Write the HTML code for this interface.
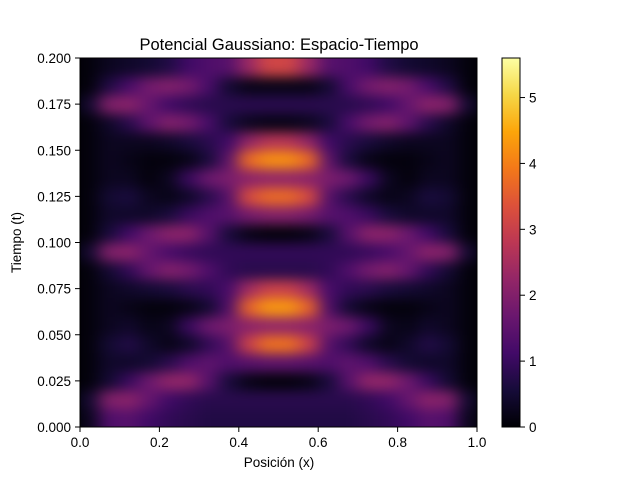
<!DOCTYPE html>
<html><head><meta charset="utf-8"><style>
html,body{margin:0;padding:0;background:#fff}
svg{display:block;font-family:"Liberation Sans","DejaVu Sans",sans-serif}
</style></head><body>
<svg id="chart" width="640" height="480" viewBox="0 0 640 480">
<defs>
<clipPath id="plotclip"><rect x="80" y="58" width="397" height="369"/></clipPath>
<filter id="blur" x="-0.1" y="-0.1" width="1.2" height="1.2" color-interpolation-filters="sRGB"><feGaussianBlur stdDeviation="8 6"/></filter>
<linearGradient id="cbgrad" x1="0" y1="1" x2="0" y2="0">
<stop offset="0" stop-color="#000004"/><stop offset="0.1" stop-color="#160b39"/><stop offset="0.2" stop-color="#420a68"/><stop offset="0.3" stop-color="#6a176e"/><stop offset="0.4" stop-color="#932667"/><stop offset="0.5" stop-color="#bc3754"/><stop offset="0.6" stop-color="#dd513a"/><stop offset="0.7" stop-color="#f37819"/><stop offset="0.8" stop-color="#fca50a"/><stop offset="0.9" stop-color="#f6d746"/><stop offset="1" stop-color="#fcffa4"/>
</linearGradient>
</defs>
<text x="279" y="50" text-anchor="middle" font-size="16.5">Potencial Gaussiano: Espacio-Tiempo</text>
<g clip-path="url(#plotclip)">
<rect x="80" y="58" width="397" height="369" fill="#000004"/>
<g id="cells" filter="url(#blur)"></g>
</g>
<rect x="80" y="58" width="397" height="369" fill="none" stroke="#000" stroke-width="1"/>
<g id="axes"></g>
<text x="279" y="467" text-anchor="middle" font-size="13.5">Posición (x)</text>
<text transform="translate(21,242.5) rotate(-90)" text-anchor="middle" font-size="13.5">Tiempo (t)</text>
<rect x="502" y="58" width="18" height="369" fill="url(#cbgrad)" stroke="#000" stroke-width="1"/>
<g id="cbaxis"></g>
</svg>
<script>
const xCenters = [0.025,0.075,0.125,0.175,0.225,0.275,0.325,0.375,0.425,0.475];
const tCenters = [0.005,0.015,0.025,0.035,0.045,0.055,0.065,0.075,0.085,0.095,0.105,0.115,0.125,0.135,0.145,0.155,0.165,0.175,0.185,0.195];
const rowValues = [
[0.3,1.3,1.4,1.1,0.9,0.8,0.7,0.7,0.7,0.7],
[0.5,2.0,2.1,1.6,1.1,0.9,0.8,0.8,0.8,0.8],
[0.1,0.5,1.0,1.7,2.2,2.2,1.4,0.6,0.2,0.1],
[0.1,0.4,0.4,0.5,0.8,1.3,1.5,1.3,1.4,1.5],
[0.1,0.5,0.7,0.4,0.2,0.4,0.9,1.4,3.0,3.8],
[0.1,0.3,0.4,0.2,0.3,1.0,1.7,1.9,2.1,2.2],
[0.1,0.3,0.2,0.1,0.1,0.2,0.5,1.3,3.6,4.3],
[0.1,0.3,0.4,0.5,0.6,0.8,0.9,1.2,2.4,3.0],
[0.1,0.5,0.9,1.6,2.0,1.8,1.3,0.9,0.8,0.8],
[0.5,2.0,2.1,1.6,1.2,1.0,0.9,0.9,0.9,0.9],
[0.1,0.6,1.1,1.7,2.1,2.1,1.4,0.6,0.2,0.1],
[0.1,0.4,0.4,0.4,0.6,1.0,1.3,1.4,1.8,2.0],
[0.1,0.5,0.6,0.3,0.2,0.4,0.8,1.4,3.2,3.7],
[0.1,0.3,0.3,0.1,0.3,1.0,1.7,1.9,2.1,2.2],
[0.1,0.3,0.2,0.1,0.1,0.2,0.6,1.5,3.7,4.2],
[0.1,0.3,0.3,0.3,0.4,0.6,0.8,1.1,2.2,2.7],
[0.1,0.4,0.8,1.5,2.0,1.8,1.2,0.6,0.3,0.2],
[0.5,2.0,2.1,1.6,1.1,0.9,0.8,0.8,0.8,0.8],
[0.1,0.7,1.2,1.8,2.0,1.8,1.2,0.5,0.2,0.2],
[0.1,0.3,0.4,0.5,0.7,1.1,1.3,1.4,2.3,3.1]
];
const xTicks = [0,0.2,0.4,0.6,0.8,1.0];
const xTickLabels = ["0.0","0.2","0.4","0.6","0.8","1.0"];
const yTicks = [0,0.025,0.05,0.075,0.1,0.125,0.15,0.175,0.2];
const yTickLabels = ["0.000","0.025","0.050","0.075","0.100","0.125","0.150","0.175","0.200"];
const cbTicks = [0,1,2,3,4,5];
const vmax = 5.6;

const NS = "http://www.w3.org/2000/svg";
const X0=80,X1=477,Y0=427,Y1=58;
const sx = x => X0 + x*(X1-X0);
const sy = t => Y0 - t/0.2*(Y0-Y1);
const cy = v => 427 - v/vmax*369;
const stops = [[0,0,0,4],[0.1,22,11,57],[0.2,66,10,104],[0.3,106,23,110],[0.4,147,38,103],[0.5,188,55,84],[0.6,221,81,58],[0.7,243,120,25],[0.8,252,165,10],[0.9,246,215,70],[1,252,255,164]];
function cmap(v){
  let f=Math.max(0,Math.min(1,v/vmax));
  for(let i=1;i<stops.length;i++){
    if(f<=stops[i][0]){
      const a=stops[i-1],b=stops[i],k=(f-a[0])/(b[0]-a[0]);
      return `rgb(${Math.round(a[1]+k*(b[1]-a[1]))},${Math.round(a[2]+k*(b[2]-a[2]))},${Math.round(a[3]+k*(b[3]-a[3]))})`;
    }
  }
  return "rgb(252,255,164)";
}
const cells=document.getElementById("cells");
const dx=0.05, dt=0.01;
rowValues.forEach((row,ri)=>{
  const t=tCenters[ri];
  let tA=t-dt/2, tB=t+dt/2;
  if(ri===0) tA-=0.02;
  if(ri===rowValues.length-1) tB+=0.02;
  row.forEach((v,ci)=>{
    [xCenters[ci], 1-xCenters[ci]].forEach(xc=>{
      const r=document.createElementNS(NS,"rect");
      r.setAttribute("x",sx(xc-dx/2)-0.5);
      r.setAttribute("y",sy(tB)-0.5);
      r.setAttribute("width",sx(xc+dx/2)-sx(xc-dx/2)+1);
      r.setAttribute("height",sy(tA)-sy(tB)+1);
      r.setAttribute("fill",cmap(v));
      
      
      cells.appendChild(r);
    });
  });
});
const axes=document.getElementById("axes");
function line(x1,y1,x2,y2,name){
  const l=document.createElementNS(NS,"line");
  l.setAttribute("x1",x1);l.setAttribute("y1",y1);l.setAttribute("x2",x2);l.setAttribute("y2",y2);
  l.setAttribute("stroke","#000");l.setAttribute("stroke-width","1");
  
  
  return l;
}
function text(x,y,s,anchor,name){
  const t=document.createElementNS(NS,"text");
  t.setAttribute("x",x);t.setAttribute("y",y);t.setAttribute("text-anchor",anchor);t.setAttribute("font-size","13.5");
  t.textContent=s;
  
  
  return t;
}
xTicks.forEach((v,i)=>{
  const x=sx(v);
  axes.appendChild(line(x,427,x,432,"x-tick"));
  axes.appendChild(text(x,447,xTickLabels[i],"middle","x-tick-label"));
});
yTicks.forEach((v,i)=>{
  const y=sy(v);
  axes.appendChild(line(75,y,80,y,"y-tick"));
  axes.appendChild(text(71,y+5,yTickLabels[i],"end","y-tick-label"));
});
const cb=document.getElementById("cbaxis");
cbTicks.forEach(v=>{
  const y=cy(v);
  cb.appendChild(line(520,y,525,y,"colorbar-tick"));
  cb.appendChild(text(529,y+5,String(v),"start","colorbar-tick-label"));
});
</script>
</body></html>
